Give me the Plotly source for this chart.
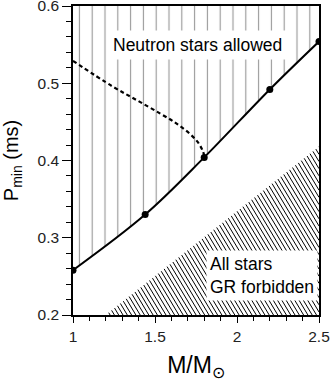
import plotly.graph_objs as go

# 中性子星の最小自転周期 (M/Msun vs P_min)
mass_pts = [1.0, 1.44, 1.8, 2.2, 2.5]
pmin_pts = [0.258, 0.330, 0.404, 0.492, 0.554]

mass_dash = [1.0, 1.24, 1.39, 1.53, 1.63, 1.71, 1.76, 1.79, 1.803]
pmin_dash = [0.529, 0.496, 0.478, 0.461, 0.448, 0.435, 0.424, 0.413, 0.404]

# GR forbidden の境界 (左下 -> 右上)
mass_gr = [1.2, 2.5]
pmin_gr = [0.2, 0.418]

x_ticks = [1, 1.5, 2, 2.5]
y_ticks = [0.2, 0.3, 0.4, 0.5, 0.6]

FONT = "Liberation Sans, Arial, sans-serif"
W, H = 330, 382
M_L, M_R, M_T, M_B = 73, 11, 6, 67


###
# 斜線ハッチ (急な "\" 線) を三角領域内で作る
def hatch_lines(step_px=4.3, slant=0.6):
  kx = (W - M_L - M_R) / (x_ticks[-1] - x_ticks[0])
  ky = (H - M_T - M_B) / (y_ticks[-1] - y_ticks[0])
  s = slant * ky / kx
  x0, x1 = mass_gr
  y0, y1 = pmin_gr
  m = (y1 - y0) / (x1 - x0)
  xs, ys = [], []
  c = x0 + step_px / kx
  while c < x1 + s * (y1 - y0):
    # 境界線との交点
    xh = (c + s * m * x0) / (1 + s * m)
    yh = y0 + m * (xh - x0)
    if c <= x1:
      xa, ya = c, y0
    else:
      xa, ya = x1, y0 + (c - x1) / s
    xs += [xa, xh, None]
    ys += [ya, yh, None]
    c += step_px / kx
  return xs, ys


def main():
  fig = go.Figure()

  # 許容領域 (縦線ハッチ)
  fig.add_trace(go.Scatter(
    x=mass_pts, y=pmin_pts, mode="lines",
    line=dict(color="rgba(0,0,0,0)", width=0, shape="spline"),
    hoverinfo="skip", showlegend=False))
  fig.add_trace(go.Scatter(
    x=[mass_pts[0], mass_pts[-1]], y=[y_ticks[-1], y_ticks[-1]], mode="lines",
    line=dict(width=0), fill="tonexty", fillcolor="rgba(0,0,0,0)",
    fillpattern=dict(shape="|", size=12.8, solidity=0.09, fgcolor="#333333"),
    hoverinfo="skip", showlegend=False))

  # GR forbidden (斜線ハッチ)
  hx, hy = hatch_lines()
  fig.add_trace(go.Scatter(
    x=hx, y=hy, mode="lines", line=dict(color="black", width=1),
    hoverinfo="skip", showlegend=False))

  fig.add_trace(go.Scatter(
    x=mass_dash, y=pmin_dash, mode="lines",
    line=dict(color="black", width=2.2, dash="4px,3px", shape="spline"),
    showlegend=False))

  fig.add_trace(go.Scatter(
    x=mass_pts, y=pmin_pts, mode="lines+markers",
    line=dict(color="black", width=2, shape="spline"),
    marker=dict(color="black", size=7),
    showlegend=False))

  fig.add_annotation(x=1.76, y=0.55, text="Neutron stars allowed",
                     showarrow=False, bgcolor="white", borderpad=4,
                     font=dict(size=17.5, color="black", family=FONT))
  fig.add_annotation(x=2.15, y=0.2505, text="All stars<br>GR forbidden",
                     showarrow=False, bgcolor="white", align="left", borderpad=3,
                     font=dict(size=17.5, color="black", family=FONT))

  fig.update_xaxes(
    range=[1, 2.5], tickvals=x_ticks, ticktext=["1", "1.5", "2", "2.5"],
    ticks="outside", ticklen=6, tickcolor="black", ticklabeloverflow="allow",
    minor=dict(dtick=0.1, ticks="outside", ticklen=4, tickcolor="black"),
    showline=True, linewidth=2, linecolor="black", mirror=True,
    showgrid=False, zeroline=False, automargin=False,
    tickfont=dict(size=15.5, color="#222", family=FONT),
    title=dict(text="M/M<sub>⊙</sub>", font=dict(size=23, color="black", family=FONT), standoff=13))
  fig.update_yaxes(
    range=[0.2, 0.6], tickvals=y_ticks, ticktext=["0.2", "0.3", "0.4", "0.5", "0.6"],
    ticks="outside", ticklen=9, tickcolor="black", ticklabeloverflow="allow",
    minor=dict(dtick=0.02, ticks="outside", ticklen=5, tickcolor="black"),
    showline=True, linewidth=1.5, linecolor="black", mirror=True,
    showgrid=False, zeroline=False, automargin=False,
    tickfont=dict(size=15.5, color="#222", family=FONT),
    title=dict(text="P<sub>min</sub> (ms)", font=dict(size=20, color="black", family=FONT), standoff=24))

  fig.update_layout(
    width=W, height=H,
    margin=dict(l=M_L, r=M_R, t=M_T, b=M_B),
    plot_bgcolor="white", paper_bgcolor="white",
    font=dict(family=FONT))

  # ページ余白を消す
  fig.write_html("out.html", config={"displayModeBar": False},
                 post_script="document.body.style.margin='0';")


if __name__ == '__main__':
  main()
